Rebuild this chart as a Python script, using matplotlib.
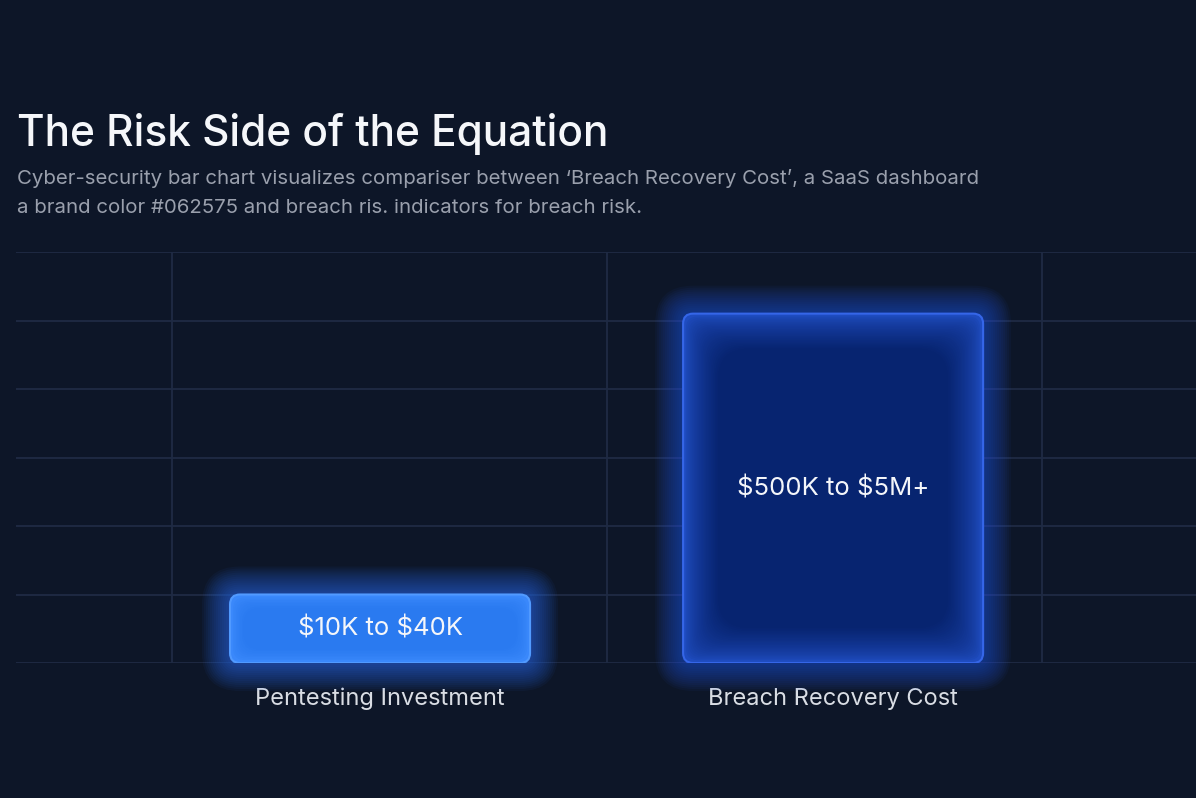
import matplotlib
matplotlib.use("Agg")
import matplotlib.pyplot as plt
from matplotlib.patches import FancyBboxPatch
import numpy as np

# data
categories = ["Pentesting Investment", "Breach Recovery Cost"]
values = [1.0, 5.1]          # relative bar heights
value_labels = ["$10K to $40K", "$500K to $5M+"]

title = "The Risk Side of the Equation"
subtitle_lines = [
    "Cyber-security bar chart visualizes compariser between \u2018Breach Recovery Cost\u2019, a SaaS dashboard",
    "a brand color #062575 and breach ris. indicators for breach risk.",
]

BG = "#0d1628"
GRID = "#1f2b44"
FONT = ["Inter", "DejaVu Sans"]
plt.rcParams["font.family"] = FONT
plt.rcParams["text.parse_math"] = False

W, H, DPI = 11.96, 7.98, 100
fig = plt.figure(figsize=(W, H), dpi=DPI, facecolor=BG)

# axes placement (figure fractions)
left, bottom, width, height = 16 / 1196, 1 - 663 / 798, 1180 / 1196, 411 / 798
ax = fig.add_axes([left, bottom, width, height], facecolor=BG)

xlim = (-0.8035, 1.801)
ylim = (0, 6)
ax.set_xlim(*xlim)
ax.set_ylim(*ylim)

px_x = width * W * DPI / (xlim[1] - xlim[0])   # pixels per x unit
px_y = height * H * DPI / (ylim[1] - ylim[0])  # pixels per y unit
aspect = px_x / px_y

# grid
ax.set_yticks(np.arange(0, 7))
ax.set_xticks([-0.46, 0.5, 1.46], minor=True)
ax.set_xticks(range(len(categories)))
ax.set_xticklabels(categories, fontsize=17, color="#d9dde4")
ax.set_yticklabels([])
ax.tick_params(axis="both", which="both", length=0)
ax.tick_params(axis="x", pad=18)
ax.grid(True, axis="y", color=GRID, linewidth=1.3)
ax.grid(True, axis="x", which="minor", color=GRID, linewidth=1.3)
for s in ax.spines.values():
    s.set_visible(False)
ax.set_axisbelow(True)

bar_w = 300 / px_x
radius = 10 / px_x


def rbox(x, y, w, h, pad_px, grow=1.0, **kw):
    p = pad_px / px_x
    r = radius + abs(p) * grow
    return FancyBboxPatch((x, y), w, h,
                          boxstyle=f"round,pad={p},rounding_size={r}",
                          mutation_aspect=aspect, **kw)


styles = [
    dict(glow="#2f74ff", fill="#3a88fb", edge="#519aff", inner="#2a7af0",
         steps=8, step=1.5),
    dict(glow="#2457e6", fill="#1f4cc0", edge="#3566e8", inner="#072470",
         steps=24, step=1.4),
]

for i, (v, lab) in enumerate(zip(values, value_labels)):
    st = styles[i]
    x0 = i - bar_w / 2
    # outer glow
    n = 14
    for k in range(n, 0, -1):
        ax.add_patch(rbox(x0, 0, bar_w, v, k * 2.0, facecolor=st["glow"],
                          edgecolor="none", alpha=0.05, zorder=2,
                          clip_on=False))
    # body
    ax.add_patch(rbox(x0, 0, bar_w, v, 0, facecolor=st["fill"],
                      edgecolor=st["edge"], linewidth=1.5, zorder=3))
    # inner glow, fading to the centre colour
    c0 = np.array(matplotlib.colors.to_rgb(st["fill"]))
    c1 = np.array(matplotlib.colors.to_rgb(st["inner"]))
    m = st["steps"]
    for k in range(1, m + 1):
        t = (k / m) ** 0.7
        col = c0 * (1 - t) + c1 * t
        ax.add_patch(rbox(x0, 0, bar_w, v, -1.5 - k * st["step"], grow=0.6,
                          facecolor=col, edgecolor="none", zorder=4))
    ax.text(i, v / 2, lab, ha="center", va="center", fontsize=18.5,
            color="#f4f6fa", zorder=6)

fig.text(17 / 1196, 1 - 146 / 798, title, fontsize=30.5, fontweight="medium",
         color="#f5f7fa", va="baseline", ha="left")
for j, line in enumerate(subtitle_lines):
    fig.text(17 / 1196, 1 - (184 + j * 29) / 798, line, fontsize=14.7,
             color="#9aa0ad", va="baseline", ha="left")

fig.savefig("out.png", dpi=DPI, facecolor=BG)
